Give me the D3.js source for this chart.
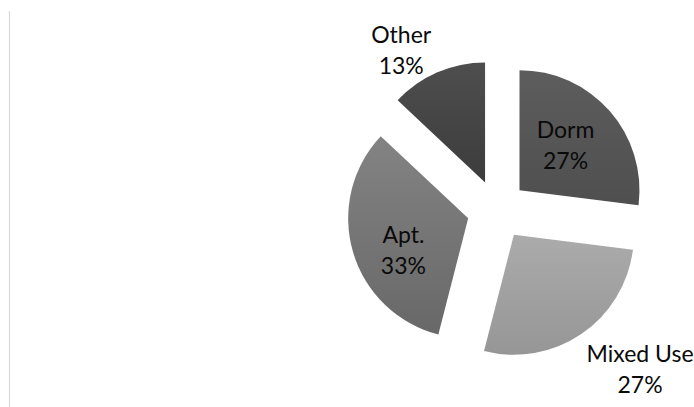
<!DOCTYPE html>
<html>
<head>
<meta charset="utf-8">
<script src="https://cdn.jsdelivr.net/npm/d3@7"></script>
<style>
  body { margin: 0; background: #fff; }
  svg { display: block; }
  .label { font-family: Lato, "Open Sans", sans-serif; font-size: 23px; fill: #0a0a0a; }
</style>
</head>
<body>
<script>
// chart data
var categories = ["Dorm", "Mixed Use", "Apt.", "Other"];
var shares = [27, 27, 33, 13];
var topColors = ["#5d5d5d", "#ababab", "#838383", "#4e4e4e"];
var bottomColors = ["#4f4f4f", "#969696", "#686868", "#3c3c3c"];

var width = 694,
    height = 407;

var svg = d3.select("body")
    .append("svg")
    .attr("width", width)
    .attr("height", height);

//thin plot-area border on the left
svg.append("line")
    .attr("x1", 9.5).attr("x2", 9.5)
    .attr("y1", 11).attr("y2", height)
    .attr("stroke", "#d9d9d9")
    .attr("stroke-width", 1.2);

var cx = 497, cy = 210, radius = 120, explode = 30;

var data = categories.map(function (c, i) {
    return { name: c, value: shares[i], i: i };
});

var pie = d3.pie()
    .sort(null)
    .value(function (d) { return d.value; });

var arc = d3.arc()
    .innerRadius(0)
    .outerRadius(radius);

var arcs = pie(data);

//vertical gradients per slice
var defs = svg.append("defs");
arcs.forEach(function (a, i) {
    var g = defs.append("linearGradient")
        .attr("id", "grad" + i)
        .attr("x1", 0).attr("y1", 0)
        .attr("x2", 0).attr("y2", 1);
    g.append("stop").attr("offset", "0%").attr("stop-color", topColors[i]);
    g.append("stop").attr("offset", "100%").attr("stop-color", bottomColors[i]);
});

var chart = svg.append("g")
    .attr("transform", "translate(" + cx + "," + cy + ")");

function offset(a) {
    var mid = (a.startAngle + a.endAngle) / 2;
    return [Math.sin(mid) * explode, -Math.cos(mid) * explode];
}

chart.selectAll(".slice")
    .data(arcs)
    .enter()
    .append("path")
    .attr("class", "slice")
    .attr("transform", function (d) {
        var o = offset(d);
        return "translate(" + o[0] + "," + o[1] + ")";
    })
    .attr("d", arc)
    .style("fill", function (d, i) { return "url(#grad" + i + ")"; });

//label placement: angle shift (deg) and distance from the slice apex
var labelPlace = [
    { shift: -6, dist: 68 },
    { shift: -10, dist: 181 },
    { shift: -6, dist: 70 },
    { shift: -8, dist: 161 }
];

var labels = chart.selectAll(".label")
    .data(arcs)
    .enter()
    .append("text")
    .attr("class", "label")
    .attr("text-anchor", "middle")
    .attr("transform", function (d, i) {
        var o = offset(d);
        var mid = (d.startAngle + d.endAngle) / 2 + labelPlace[i].shift * Math.PI / 180;
        var x = o[0] + Math.sin(mid) * labelPlace[i].dist;
        var y = o[1] - Math.cos(mid) * labelPlace[i].dist;
        return "translate(" + x + "," + y + ")";
    });

labels.append("tspan")
    .attr("x", 0)
    .attr("dy", "-0.1em")
    .text(function (d) { return d.data.name; });

labels.append("tspan")
    .attr("x", 0)
    .attr("dy", "1.35em")
    .text(function (d) { return d.data.value + "%"; });
</script>
</body>
</html>
